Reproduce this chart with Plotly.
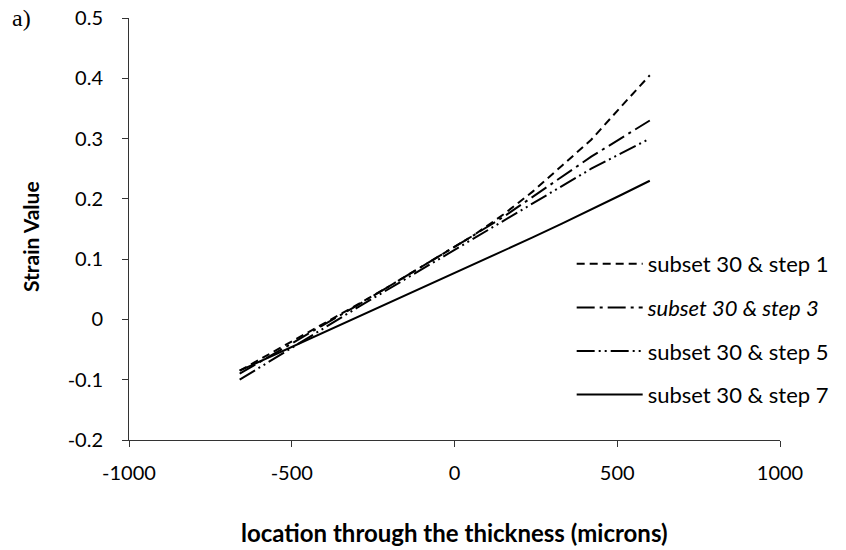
import plotly.graph_objects as go

x_loc = [-660, -570, -480, -390, -300, -210, -120, -30, 60, 150, 240, 330, 420, 510, 600]
step1 = [-0.085, -0.058, -0.031, -0.004, 0.024, 0.052, 0.081, 0.110, 0.140, 0.174, 0.212, 0.255, 0.298, 0.352, 0.405]
step3 = [-0.090, -0.062, -0.034, -0.006, 0.023, 0.052, 0.081, 0.110, 0.140, 0.170, 0.203, 0.237, 0.270, 0.300, 0.330]
step5 = [-0.100, -0.070, -0.040, -0.010, 0.019, 0.048, 0.077, 0.106, 0.135, 0.164, 0.193, 0.221, 0.250, 0.275, 0.300]
step7 = [-0.085, -0.063, -0.041, -0.019, 0.003, 0.025, 0.047, 0.069, 0.091, 0.113, 0.136, 0.159, 0.182, 0.206, 0.230]

x_ticks = [-1000, -500, 0, 500, 1000]
x_ticklabels = ["-1000", "-500", "0", "500", "1000"]
y_ticks = [-0.2, -0.1, 0, 0.1, 0.2, 0.3, 0.4, 0.5]
y_ticklabels = ["-0.2", "-0.1", "0", "0.1", "0.2", "0.3", "0.4", "0.5"]

names = ["subset 30 &amp; step 1", "<i>subset 30 &amp; step 3</i>",
         "subset 30 &amp; step 5", "subset 30 &amp; step 7"]
series = [step1, step3, step5, step7]
dashes = ["8px,5px", "18px,5px,3px,5px", "18px,4px,2px,4px,2px,4px", "solid"]

FONT = "Lato"
W, H = 846, 550
L, R, T, B = 129, 66, 18, 110
PW, PH = W - L - R, H - T - B

fig = go.Figure()
for i, (nm, ys, ds) in enumerate(zip(names, series, dashes)):
    fig.add_trace(go.Scatter(
        x=x_loc, y=ys, mode="lines", name=nm, legendgroup=f"g{i}",
        line=dict(color="black", width=2, dash=ds)))

fig.update_layout(
    width=W, height=H,
    margin=dict(l=L, r=R, t=T, b=B, autoexpand=False),
    plot_bgcolor="white", paper_bgcolor="white",
    font=dict(family=FONT, size=16, color="black"),
    showlegend=True,
    legend=dict(x=0.68, y=1 - (243 - T) / PH, xanchor="left", yanchor="top",
                traceorder="grouped", tracegroupgap=12, itemwidth=66,
                font=dict(family=FONT, size=22, color="black"),
                bgcolor="rgba(0,0,0,0)"),
    xaxis=dict(range=[-1000, 1000], tickvals=x_ticks, ticktext=x_ticklabels,
               showline=True, linecolor="#333", linewidth=1,
               ticks="outside", ticklen=6, tickcolor="#333",
               showgrid=False, zeroline=False, ticklabelstandoff=9,
               automargin=False, tickfont=dict(family=FONT, size=20)),
    yaxis=dict(range=[-0.2, 0.5], tickvals=y_ticks, ticktext=y_ticklabels,
               showline=True, linecolor="#333", linewidth=1,
               ticks="outside", ticklen=6, tickcolor="#333",
               showgrid=False, zeroline=False, ticklabelstandoff=15,
               automargin=False, tickfont=dict(family=FONT, size=20)),
)
# axis titles placed as annotations (pixel-accurate)
fig.add_annotation(text="<b>location through the thickness (microns)</b>",
                   xref="paper", yref="paper", x=0.5, y=-(532 - T - PH) / PH,
                   xanchor="center", yanchor="middle", showarrow=False,
                   font=dict(family=FONT, size=24, color="black"))
fig.add_annotation(text="<b>Strain Value</b>", textangle=-90,
                   xref="paper", yref="paper", x=(30 - L) / PW, y=1 - (237 - T) / PH,
                   xanchor="center", yanchor="middle", showarrow=False,
                   font=dict(family=FONT, size=21, color="black"))
fig.add_annotation(text="a)", xref="paper", yref="paper",
                   x=(10 - L) / PW, y=1 - (18 - T) / PH, xanchor="left", yanchor="middle",
                   showarrow=False,
                   font=dict(family="Liberation Serif", size=24, color="black"))

fig.write_html("out.html")
